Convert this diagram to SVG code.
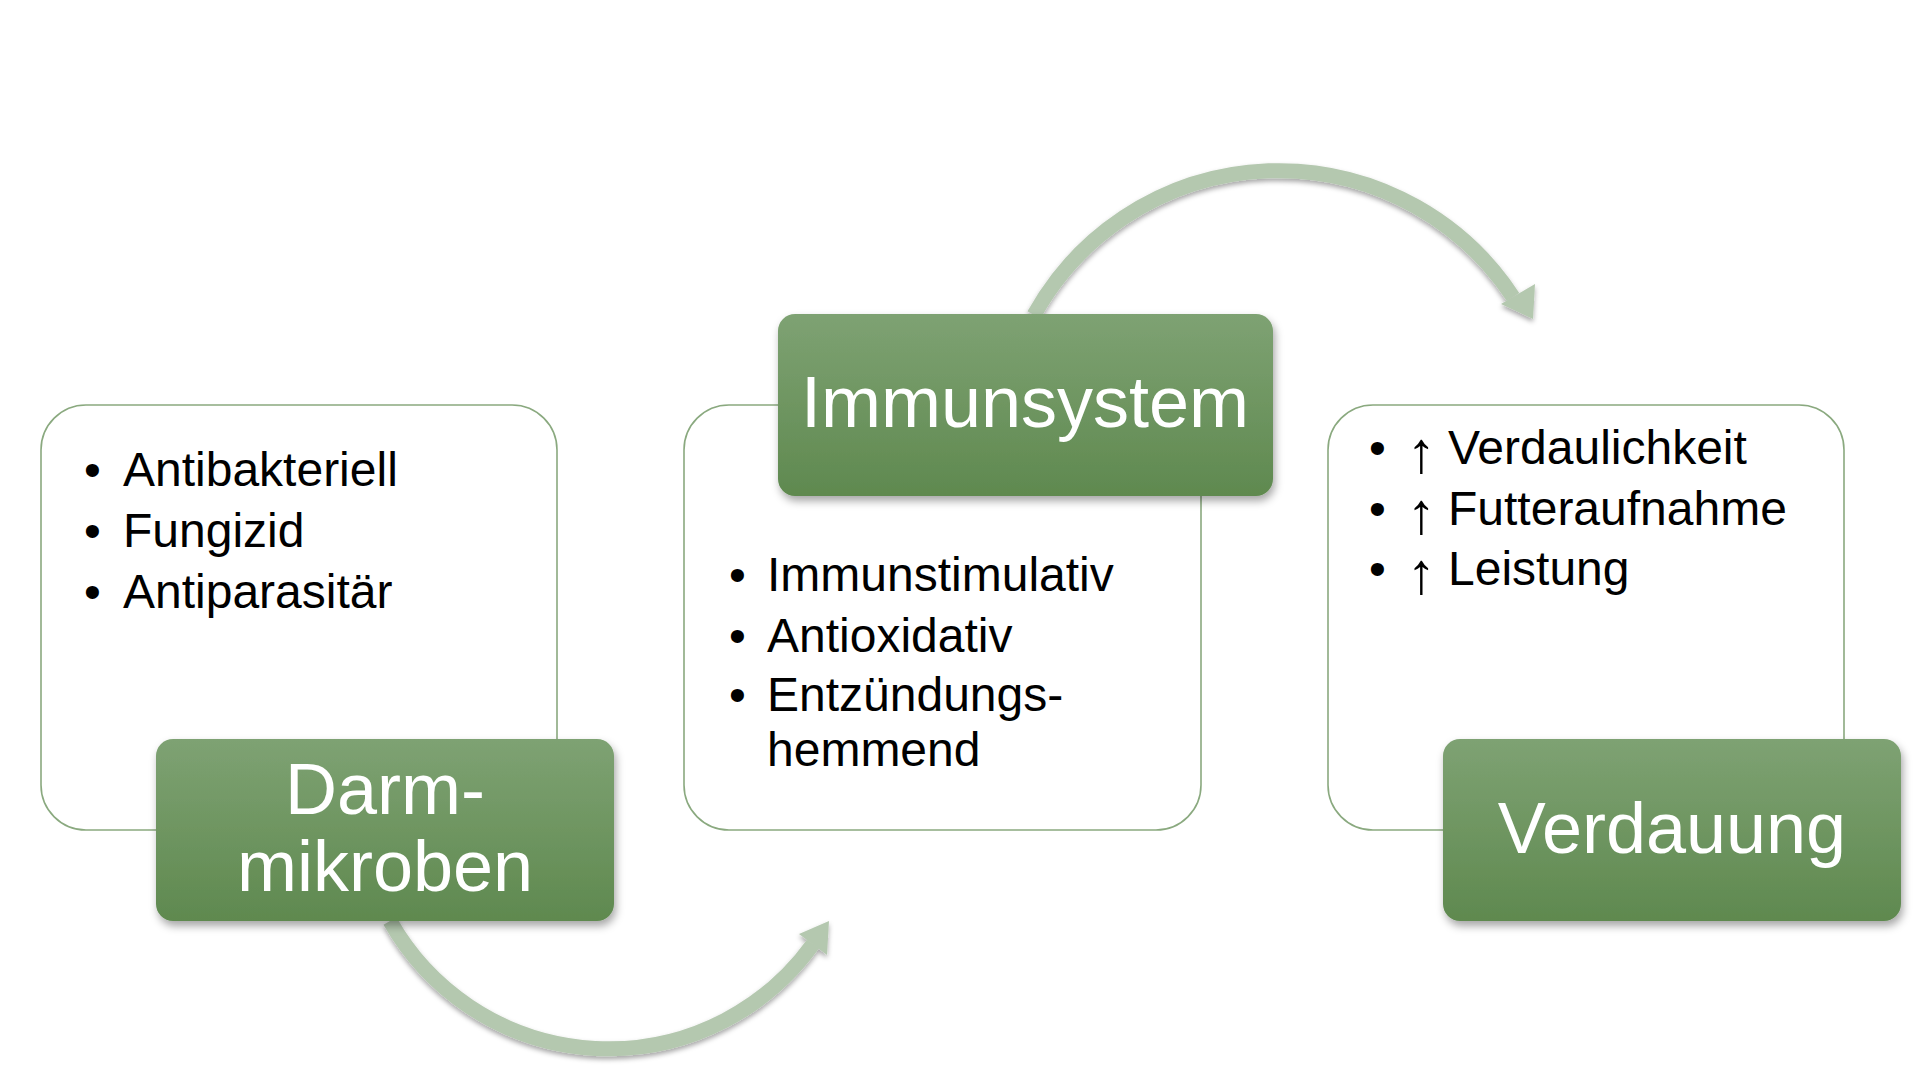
<svg xmlns="http://www.w3.org/2000/svg" width="1920" height="1080" viewBox="0 0 1920 1080">
<defs>
  <linearGradient id="gGreen" x1="0" y1="0" x2="0" y2="1">
    <stop offset="0" stop-color="#7ea273"/>
    <stop offset="1" stop-color="#5f894f"/>
  </linearGradient>
  <filter id="shadow" x="-10%" y="-10%" width="125%" height="135%">
    <feDropShadow dx="2" dy="5" stdDeviation="4" flood-color="#000" flood-opacity="0.35"/>
  </filter>
  <filter id="arcShadow" x="-10%" y="-10%" width="125%" height="130%">
    <feDropShadow dx="0" dy="3" stdDeviation="2.5" flood-color="#000" flood-opacity="0.35"/>
  </filter>
  <style>
    .outline { fill: #ffffff; stroke: #8aa97f; stroke-width: 1.6; }
    .head { fill: url(#gGreen); filter: url(#shadow); }
    .headText { font-family: "Liberation Sans", Arial, sans-serif; font-size: 72px; fill: #ffffff; text-anchor: middle; }
    .bullet { font-family: "Liberation Sans", Arial, sans-serif; font-size: 48px; fill: #000000; }
    .up { font-size: 58px; }
    .arc { fill: none; stroke: #b4c8af; stroke-width: 15; }
    .arrowHead { fill: #b4c8af; }
  </style>
</defs>
<rect width="1920" height="1080" fill="#ffffff"/>

<g id="connectors">
  <g filter="url(#arcShadow)">
    <path class="arc" d="M 390 921 A 251.3 251.3 0 0 0 813 944"/>
    <polygon class="arrowHead" points="799,934 829,921 827,955"/>
  </g>
  <g filter="url(#arcShadow)">
    <path class="arc" d="M 1034 315 A 280 280 0 0 1 1513 297"/>
    <polygon class="arrowHead" points="1535,284 1533,319 1501,304"/>
  </g>
</g>

<g id="node-darmmikroben">
  <rect class="outline" x="41" y="405" width="516" height="425" rx="45" ry="45"/>
  <text class="bullet">
    <tspan x="84" y="486">•</tspan><tspan x="123" y="486">Antibakteriell</tspan>
    <tspan x="84" y="547">•</tspan><tspan x="123" y="547">Fungizid</tspan>
    <tspan x="84" y="608">•</tspan><tspan x="123" y="608">Antiparasitär</tspan>
  </text>
  <rect class="head" x="156" y="739" width="458" height="182" rx="17" ry="17"/>
  <text class="headText"><tspan x="385" y="814">Darm-</tspan><tspan x="385" y="891">mikroben</tspan></text>
</g>

<g id="node-immunsystem">
  <rect class="outline" x="684" y="405" width="517" height="425" rx="45" ry="45"/>
  <text class="bullet">
    <tspan x="729" y="591">•</tspan><tspan x="767" y="591">Immunstimulativ</tspan>
    <tspan x="729" y="652">•</tspan><tspan x="767" y="652">Antioxidativ</tspan>
    <tspan x="729" y="711">•</tspan><tspan x="767" y="711">Entzündungs-</tspan>
    <tspan x="767" y="766">hemmend</tspan>
  </text>
  <rect class="head" x="778" y="314" width="495" height="182" rx="17" ry="17"/>
  <text class="headText" x="1025" y="427">Immunsystem</text>
</g>

<g id="node-verdauung">
  <rect class="outline" x="1328" y="405" width="516" height="425" rx="45" ry="45"/>
  <text class="bullet">
    <tspan x="1369" y="464">•</tspan><tspan class="up" x="1407" y="472">↑</tspan><tspan x="1448" y="464">Verdaulichkeit</tspan>
    <tspan x="1369" y="525">•</tspan><tspan class="up" x="1407" y="533">↑</tspan><tspan x="1448" y="525">Futteraufnahme</tspan>
    <tspan x="1369" y="585">•</tspan><tspan class="up" x="1407" y="593">↑</tspan><tspan x="1448" y="585">Leistung</tspan>
  </text>
  <rect class="head" x="1443" y="739" width="458" height="182" rx="17" ry="17"/>
  <text class="headText" x="1672" y="853">Verdauung</text>
</g>
</svg>
